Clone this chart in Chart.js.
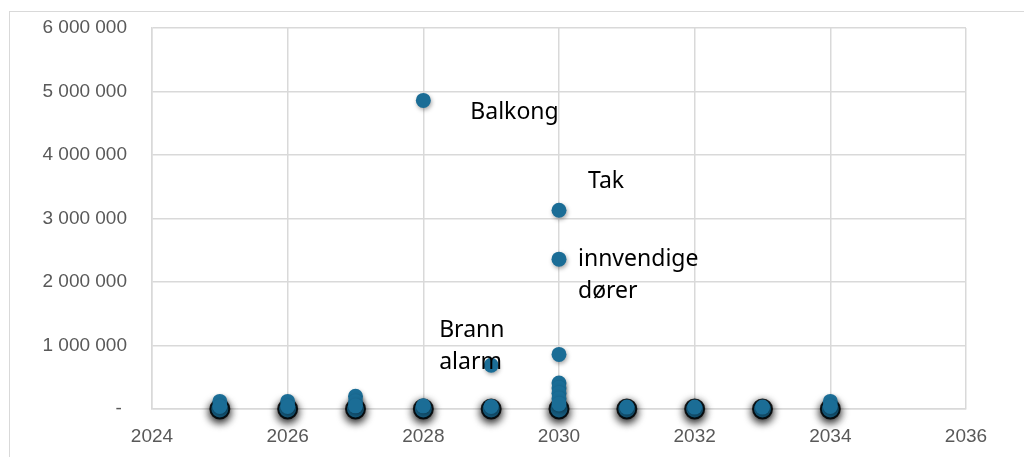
<!DOCTYPE html>
<html>
<head>
<meta charset="utf-8">
<script src="https://cdn.jsdelivr.net/npm/chart.js@4"></script>
<style>
  html, body { margin: 0; padding: 0; background: #fff; }
  #wrap { position: relative; width: 1024px; height: 457px; overflow: hidden; }
  #frame { position: absolute; left: 9px; top: 11px; width: 1100px; height: 500px;
           border-left: 1.5px solid #d9d9d9; border-top: 1.5px solid #d9d9d9; }
  canvas { position: absolute; left: 0; top: 0; }
</style>
</head>
<body>
<div id="wrap">
  <div id="frame"></div>
  <canvas id="chart" width="1024" height="457"></canvas>
</div>
<script>
// named items (year of work, cost in NOK)
const itemYears = [2028, 2030, 2030, 2030, 2029,
                   2030, 2030, 2030, 2030, 2030,
                   2027, 2027, 2027, 2025, 2025, 2026, 2026,
                   2028, 2029, 2031, 2032, 2033, 2034, 2034];
const itemCosts = [4860000, 3130000, 2360000, 860000, 690000,
                   410000, 330000, 250000, 160000, 80000,
                   200000, 120000, 50000, 120000, 40000, 120000, 40000,
                   50000, 40000, 30000, 30000, 30000, 120000, 40000];
const itemLabels = [['Balkong'], ['Tak'], ['innvendige', 'dører'], null, ['Brann', 'alarm']];

// many small items booked at ~0 each year
const zeroYears = [2025, 2026, 2027, 2028, 2029, 2030, 2031, 2032, 2033, 2034];
const zeroCosts = [0, 0, 0, 0, 0, 0, 0, 0, 0, 0];

const xTicks = [2024, 2026, 2028, 2030, 2032, 2034, 2036];
const yMax = 6000000;
const yStep = 1000000;

const pointColor = '#1b6d96';
const gridColor = '#d9d9d9';

function toPoints(xs, ys) {
  return xs.map((x, i) => ({ x: x, y: ys[i] }));
}

function fmtNok(v) {
  if (v === 0) return '- ';
  return String(v).replace(/\B(?=(\d{3})+(?!\d))/g, ' ');
}

// shadow per dataset, Excel style marker shadow
const shadowPlugin = {
  id: 'shadow',
  beforeDatasetDraw(chart, args) {
    const ds = chart.data.datasets[args.index];
    const ctx = chart.ctx;
    ctx.save();
    if (ds.shadow) {
      ctx.shadowColor = ds.shadow.color;
      ctx.shadowBlur = ds.shadow.blur;
      ctx.shadowOffsetX = ds.shadow.dx;
      ctx.shadowOffsetY = ds.shadow.dy;
    }
  },
  afterDatasetDraw(chart) {
    chart.ctx.restore();
  }
};

// text labels next to some points
const labelOffsets = [
  { dx: 47, dy: 19 },
  { dx: 29, dy: -22 },
  { dx: 19, dy: 7 },
  null,
  { dx: -52, dy: -28 }
];

const pointLabels = {
  id: 'pointLabels',
  afterDatasetsDraw(chart) {
    const meta = chart.getDatasetMeta(1);
    const ctx = chart.ctx;
    ctx.save();
    ctx.font = '23px "Noto Sans", sans-serif';
    ctx.fillStyle = '#000';
    ctx.textAlign = 'left';
    ctx.textBaseline = 'alphabetic';
    itemLabels.forEach((lines, i) => {
      if (!lines) return;
      const p = meta.data[i];
      const off = labelOffsets[i];
      lines.forEach((t, k) => {
        ctx.fillText(t, p.x + off.dx, p.y + off.dy + k * 32);
      });
    });
    ctx.restore();
  }
};

new Chart(document.getElementById('chart'), {
  type: 'scatter',
  data: {
    datasets: [
      {
        label: 'small',
        data: toPoints(zeroYears, zeroCosts),
        backgroundColor: pointColor,
        borderColor: 'rgba(0,0,0,0.85)',
        borderWidth: 2,
        pointRadius: 9.5,
        clip: false,
        order: 2,
        shadow: { color: 'rgba(0,0,0,1)', blur: 8, dx: 0, dy: 3 }
      },
      {
        label: 'items',
        data: toPoints(itemYears, itemCosts),
        backgroundColor: pointColor,
        borderColor: pointColor,
        borderWidth: 0,
        pointRadius: 7.5,
        clip: false,
        order: 1,
        shadow: { color: 'rgba(0,0,0,0.35)', blur: 4, dx: 1, dy: 2 }
      }
    ]
  },
  options: {
    responsive: false,
    animation: false,
    layout: { padding: { top: 28, right: 58, left: 0, bottom: 0 } },
    plugins: {
      legend: { display: false },
      tooltip: { enabled: false }
    },
    scales: {
      x: {
        type: 'linear',
        min: xTicks[0],
        max: xTicks[xTicks.length - 1],
        afterBuildTicks(scale) {
          scale.ticks = xTicks.map(v => ({ value: v }));
        },
        afterFit(scale) {
          scale.height = 48;
          scale.paddingLeft = 0;
          scale.paddingRight = 0;
        },
        grid: { color: gridColor, lineWidth: 1.5, drawTicks: false },
        border: { color: gridColor, width: 1.5 },
        ticks: {
          padding: 16,
          color: '#595959',
          font: { family: '"Liberation Sans", Arial, sans-serif', size: 19 },
          callback: v => String(v)
        }
      },
      y: {
        min: 0,
        max: yMax,
        afterFit(scale) {
          scale.width = 152;
          scale.paddingTop = 0;
          scale.paddingBottom = 0;
        },
        grid: { color: gridColor, lineWidth: 1.5, drawTicks: false },
        border: { color: gridColor, width: 1.5 },
        ticks: {
          stepSize: yStep,
          padding: 25,
          color: '#595959',
          font: { family: '"Liberation Sans", Arial, sans-serif', size: 19 },
          callback: v => fmtNok(v)
        }
      }
    }
  },
  plugins: [shadowPlugin, pointLabels]
});
</script>
</body>
</html>
